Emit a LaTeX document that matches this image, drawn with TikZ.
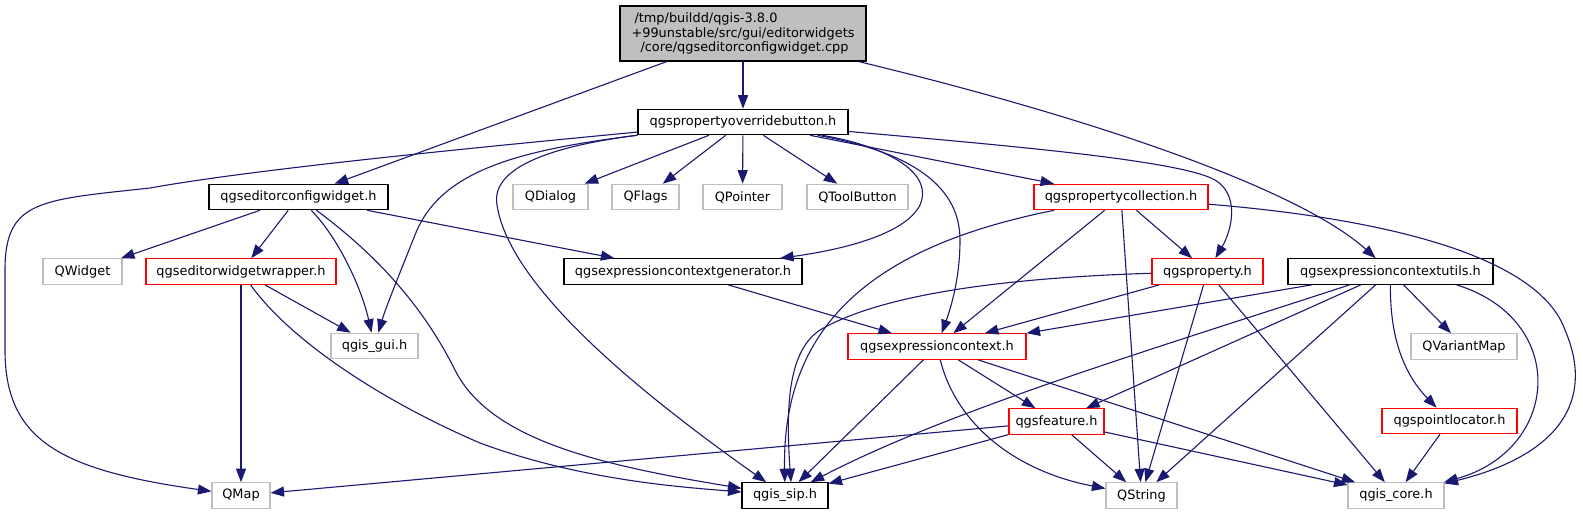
\documentclass[tikz,border=0pt]{standalone}
\usepackage{fontspec}
\setmainfont{DejaVu Sans}
\usetikzlibrary{arrows.meta}
\definecolor{edgeblue}{HTML}{191970}
\definecolor{boxgray}{HTML}{BFBFBF}
\tikzset{
  file/.style={draw, line width=1.1pt, minimum height=25.5, inner sep=0pt,
    font=\fontsize{12.9}{14.7}\selectfont},
  plainfile/.style={file, draw=boxgray},
  redfile/.style={file, draw=red},
  dep/.style={draw=edgeblue, line width=1.1pt, -{Triangle[length=13.5pt,width=10pt]}},
}
\begin{document}
\begin{tikzpicture}[x=1pt, y=-1pt]
  \useasboundingbox[fill=white] (0,0) rectangle (1583,515);

  \node[file, fill=boxgray, minimum width=246, minimum height=55, align=left] (root) at (743,33.5)
    {\hspace*{3pt}/tmp/buildd/qgis-3.8.0\\+99unstable/src/gui/editorwidgets\\\hspace*{9pt}/core/qgseditorconfigwidget.cpp};
  \node[file, minimum width=210] (pob) at (743,122) {qgspropertyoverridebutton.h};

  \node[file, minimum width=179] (ecw) at (298.5,197) {qgseditorconfigwidget.h};
  \node[plainfile, minimum width=75] (qdialog) at (550.5,197) {QDialog};
  \node[plainfile, minimum width=67] (qflags) at (645.5,197) {QFlags};
  \node[plainfile, minimum width=79] (qpointer) at (742.5,197) {QPointer};
  \node[plainfile, minimum width=101] (qtoolbutton) at (857.5,197) {QToolButton};
  \node[redfile, minimum width=174] (pc) at (1121,197) {qgspropertycollection.h};

  \node[plainfile, minimum width=79] (qwidget) at (82.5,271.5) {QWidget};
  \node[redfile, minimum width=190] (ewwrap) at (241,271.5) {qgseditorwidgetwrapper.h};
  \node[file, minimum width=238] (ecg) at (683,271.5) {qgsexpressioncontextgenerator.h};
  \node[redfile, minimum width=111] (prop) at (1207.5,271.5) {qgsproperty.h};
  \node[file, minimum width=205] (ecu) at (1390.5,271.5) {qgsexpressioncontextutils.h};

  \node[plainfile, minimum width=87] (gui) at (374.5,346) {qgis\_gui.h};
  \node[redfile, minimum width=178] (ec) at (937,346.5) {qgsexpressioncontext.h};
  \node[plainfile, minimum width=106] (qvariantmap) at (1464,346.5) {QVariantMap};

  \node[redfile, minimum width=95] (feat) at (1056.5,421.5) {qgsfeature.h};
  \node[redfile, minimum width=135] (pl) at (1449.5,421) {qgspointlocator.h};

  \node[plainfile, minimum width=58] (qmap) at (241,495.5) {QMap};
  \node[file, minimum width=86] (sip) at (785,495.5) {qgis\_sip.h};
  \node[plainfile, minimum width=71] (qstring) at (1141.5,495.5) {QString};
  \node[plainfile, minimum width=96] (core) at (1396,495.5) {qgis\_core.h};

  % root file
  \draw[dep] (root) -- (pob);
  \draw[dep] (root) -- (ecw);
  \draw[dep] (root) .. controls (1100,120) and (1300,190) .. (ecu);

  % qgspropertyoverridebutton.h
  \draw[dep] (pob) .. controls (450,150) and (250,170) .. (150,188)
    .. controls (40,200) and (5,200) .. (5,270) -- (5,350)
    .. controls (5,440) and (60,470) .. (qmap);
  \draw[dep] (pob) .. controls (520,150) and (440,170) .. (415,235)
    .. controls (395,285) and (385,310) .. (gui);
  \draw[dep] (pob) .. controls (560,145) and (490,165) .. (497,205)
    .. controls (510,290) and (650,400) .. (sip);
  \draw[dep] (pob) -- (qdialog);
  \draw[dep] (pob) -- (qflags);
  \draw[dep] (pob) -- (qpointer);
  \draw[dep] (pob) -- (qtoolbutton);
  \draw[dep] (pob) .. controls (880,145) and (935,170) .. (920,205)
    .. controls (905,235) and (840,250) .. (ecg);
  \draw[dep] (pob) .. controls (900,150) and (960,180) .. (960,240)
    .. controls (960,280) and (950,310) .. (ec);
  \draw[dep] (pob) -- (pc);
  \draw[dep] (pob) .. controls (1000,145) and (1180,160) .. (1215,180)
    .. controls (1240,195) and (1232,230) .. (prop);

  % qgseditorconfigwidget.h
  \draw[dep] (ecw) -- (qwidget);
  \draw[dep] (ecw) -- (ewwrap);
  \draw[dep] (ecw) .. controls (340,240) and (362,290) .. (gui);
  \draw[dep] (ecw) .. controls (370,250) and (420,300) .. (455,370)
    .. controls (490,440) and (600,465) .. (sip);
  \draw[dep] (ecw) -- (ecg);

  \draw[dep] (ewwrap) -- (qmap);
  \draw[dep] (ewwrap) -- (gui);
  \draw[dep] (ewwrap) .. controls (290,340) and (380,400) .. (480,443)
    .. controls (580,480) and (680,487) .. (sip);

  \draw[dep] (ecg) -- (ec);

  % qgspropertycollection.h
  \draw[dep] (pc) .. controls (880,245) and (782,320) .. (sip);
  \draw[dep] (pc) -- (ec);
  \draw[dep] (pc) -- (qstring);
  \draw[dep] (pc) -- (prop);
  \draw[dep] (pc) .. controls (1400,220) and (1540,260) .. (1565,330)
    .. controls (1595,400) and (1560,455) .. (core);

  \draw[dep] (prop) .. controls (1000,278) and (880,295) .. (820,330)
    .. controls (790,350) and (785,400) .. ([xshift=6]sip.north);
  \draw[dep] (prop) -- (ec);
  \draw[dep] (prop) -- (qstring);
  \draw[dep] (prop) -- (core);

  % qgsexpressioncontextutils.h
  \draw[dep] (ecu) -- (ec.north east);
  \draw[dep] (ecu) .. controls (1150,350) and (950,410) .. (sip);
  \draw[dep] (ecu) -- (feat);
  \draw[dep] (ecu) -- (qstring);
  \draw[dep] (ecu) -- (qvariantmap);
  \draw[dep] (ecu) .. controls (1390,330) and (1400,370) .. (pl);
  \draw[dep] ([xshift=66]ecu.south) .. controls (1570,320) and (1560,450) .. (core);

  \draw[dep] (ec) -- (sip);
  \draw[dep] (ec) .. controls (955,420) and (1010,470) .. (qstring);
  \draw[dep] (ec) -- (feat);
  \draw[dep] (ec) -- (core);

  \draw[dep] (feat) -- (qmap);
  \draw[dep] (feat) -- (sip);
  \draw[dep] (feat) -- (qstring);
  \draw[dep] (feat) -- (core);

  \draw[dep] (pl) -- (core);
\end{tikzpicture}
\end{document}
